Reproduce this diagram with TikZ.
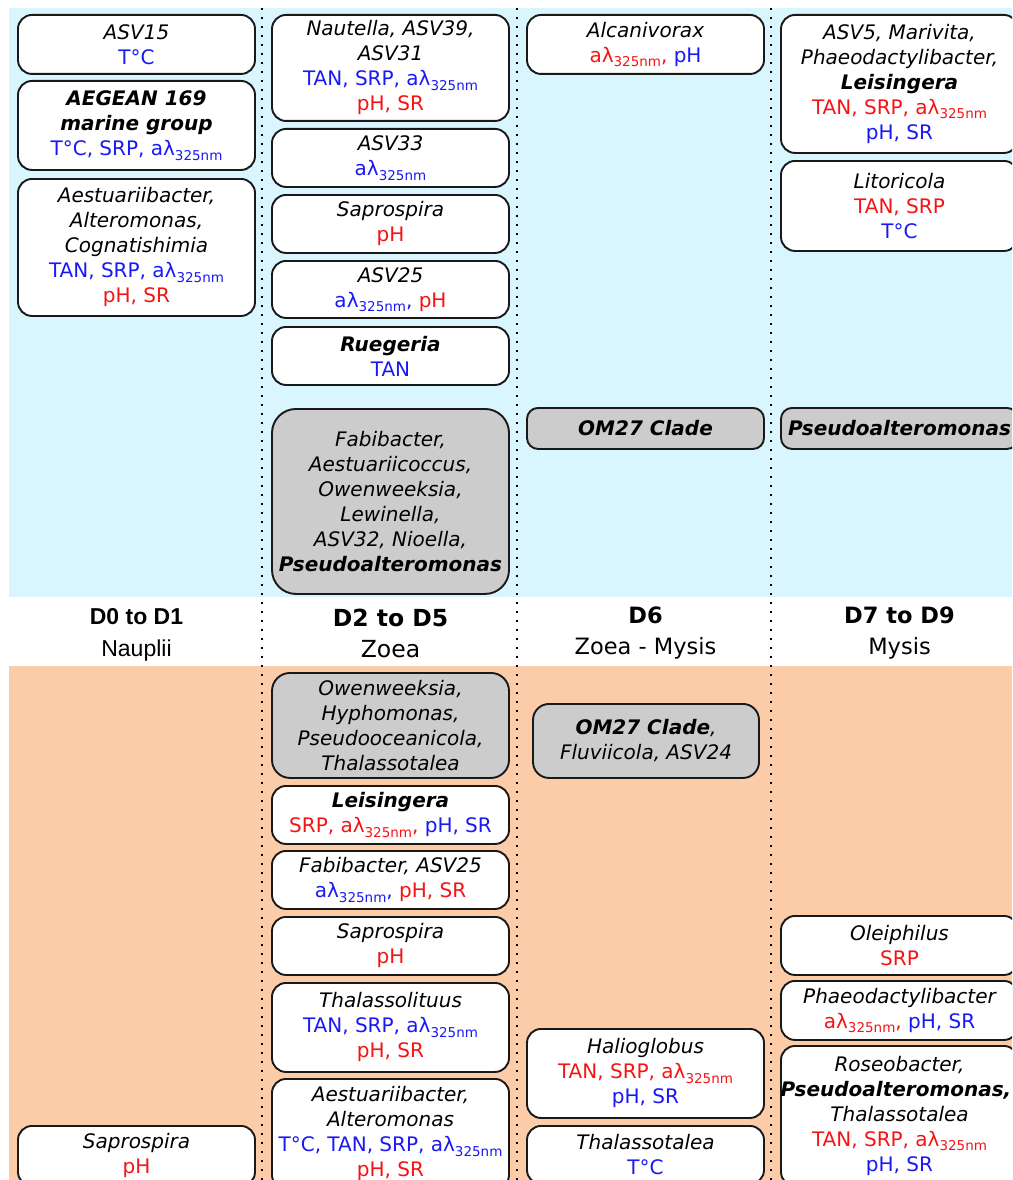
\documentclass[tikz,border=0pt]{standalone}
\usepackage{fontspec}
\setmainfont{DejaVu Sans}
\newfontfamily\arialfont{Liberation Sans}
\usetikzlibrary{positioning}
\definecolor{topblue}{RGB}{217,245,253}
\definecolor{botpeach}{RGB}{252,204,168}
\definecolor{sharedgray}{RGB}{204,204,204}
\definecolor{posblue}{RGB}{25,25,245}
\definecolor{negred}{RGB}{245,20,20}
\definecolor{boxline}{RGB}{25,25,25}
\newcommand{\posc}[1]{\textcolor{posblue}{\upshape #1}}
\newcommand{\negc}[1]{\textcolor{negred}{\upshape #1}}
\newcommand{\alam}{aλ\raisebox{-4.5pt}{\fontsize{13.5}{13.5}\selectfont 325nm}}

\begin{document}
\begin{tikzpicture}[
    x=1pt, y=-1pt,
    taxon/.style={draw=boxline, line width=1.9pt, fill=white, rounded corners=14pt, minimum width=237pt, inner sep=2pt, align=center, anchor=north, font=\fontsize{20}{25}\selectfont\itshape},
    shared/.style={taxon, fill=sharedgray},
    stage/.style={anchor=north, inner sep=0pt, align=center, font=\fontsize{22.5}{31}\selectfont},
    divider/.style={line width=2pt, dash pattern=on 2pt off 7pt}
]
\useasboundingbox (0,0) rectangle (1012,1180);
\clip (0,0) rectangle (1012,1180);

% Bands
\fill[topblue] (9,8) rectangle (1012,597);
\fill[botpeach] (9,666) rectangle (1012,1180);

% Column dividers
\draw[divider] (262,8) -- (262,1180);
\draw[divider] (517,8) -- (517,1180);
\draw[divider] (771,8) -- (771,1180);

% Top: D0 to D1
\node[taxon, minimum height=59pt] (asvfifteen) at (136.5,14) {ASV15\\\posc{T°C}};
\node[taxon, minimum height=89pt] (aegean) at (136.5,80) {\textbf{AEGEAN 169}\\\textbf{marine group}\\\posc{T°C, SRP, \alam}};
\node[taxon, minimum height=137pt] (aestuaA) at (136.5,178) {Aestuariibacter,\\Alteromonas,\\Cognatishimia\\\posc{TAN, SRP, \alam}\\\negc{pH, SR}};

% Top: D2 to D5
\node[taxon, minimum height=106pt] (nautella) at (390.5,14) {Nautella, ASV39,\\ASV31\\\posc{TAN, SRP, \alam}\\\negc{pH, SR}};
\node[taxon, minimum height=58pt] (asvthirtythree) at (390.5,128) {ASV33\\\posc{\alam}};
\node[taxon, minimum height=58pt] (saproA) at (390.5,194) {Saprospira\\\negc{pH}};
\node[taxon, minimum height=57pt] (asvtwentyfiveA) at (390.5,260) {ASV25\\\posc{\alam,} \negc{pH}};
\node[taxon, minimum height=58pt] (ruegeria) at (390.5,326) {\textbf{Ruegeria}\\\posc{TAN}};
\node[shared, minimum height=185pt, rounded corners=24pt] (fabiA) at (390.5,408) {Fabibacter,\\Aestuariicoccus,\\Owenweeksia,\\Lewinella,\\ASV32, Nioella,\\\textbf{Pseudoalteromonas}};

% Top: D6
\node[taxon, minimum height=59pt] (alcani) at (645.5,14) {Alcanivorax\\\negc{\alam,} \posc{pH}};
\node[shared, minimum height=41pt, rounded corners=11pt] (omA) at (645.5,407) {\textbf{OM27 Clade}};

% Top: D7 to D9
\node[taxon, minimum height=138pt] (asvfive) at (899.5,14) {ASV5, Marivita,\\Phaeodactylibacter,\\\textbf{Leisingera}\\\negc{TAN, SRP, \alam}\\\posc{pH, SR}};
\node[taxon, minimum height=90pt] (litori) at (899.5,160) {Litoricola\\\negc{TAN, SRP}\\\posc{T°C}};
\node[shared, minimum height=41pt, rounded corners=11pt] (pseudoA) at (899.5,407) {\textbf{Pseudoalteromonas}};

% Stages
\node[stage, font=\arialfont\fontsize{23}{32}\selectfont] (dzero) at (136.5,608) {\textbf{D0 to D1}\\Nauplii};
\node[stage, font=\fontsize{23.5}{31}\selectfont] (dtwo) at (390.5,609) {\textbf{D2 to D5}\\Zoea};
\node[stage] (dsix) at (645.5,607) {\textbf{D6}\\Zoea - Mysis};
\node[stage] (dseven) at (899.5,607) {\textbf{D7 to D9}\\Mysis};

% Bottom: D0 to D1
\node[taxon, minimum height=60pt] (saproB) at (136.5,1125) {Saprospira\\\negc{pH}};

% Bottom: D2 to D5
\node[shared, minimum height=105pt, rounded corners=18pt] (oweng) at (390.5,672) {Owenweeksia,\\Hyphomonas,\\Pseudooceanicola,\\Thalassotalea};
\node[taxon, minimum height=58pt] (leisB) at (390.5,785) {\textbf{Leisingera}\\\negc{SRP, \alam,} \posc{pH, SR}};
\node[taxon, minimum height=58pt] (fabiB) at (390.5,850) {Fabibacter, ASV25\\\posc{\alam,} \negc{pH, SR}};
\node[taxon, minimum height=58pt] (saproC) at (390.5,916) {Saprospira\\\negc{pH}};
\node[taxon, minimum height=89pt] (thalassol) at (390.5,982) {Thalassolituus\\\posc{TAN, SRP, \alam}\\\negc{pH, SR}};
\node[taxon, minimum height=110pt] (aestuaB) at (390.5,1078) {Aestuariibacter,\\Alteromonas\\\posc{T°C, TAN, SRP, \alam}\\\negc{pH, SR}};

% Bottom: D6
\node[shared, minimum width=226pt, minimum height=74pt, rounded corners=16pt] (omB) at (646,703) {\textbf{OM27 Clade}, \\Fluviicola, ASV24};
\node[taxon, minimum height=89pt] (halio) at (645.5,1028) {Halioglobus\\\negc{TAN, SRP, \alam}\\\posc{pH, SR}};
\node[taxon, minimum height=58pt] (thalassot) at (645.5,1125) {Thalassotalea\\\posc{T°C}};

% Bottom: D7 to D9
\node[taxon, minimum height=59pt] (oleiph) at (899.5,915) {Oleiphilus\\\negc{SRP}};
\node[taxon, minimum height=59pt] (phaeo) at (899.5,980) {Phaeodactylibacter\\\negc{\alam,} \posc{pH, SR}};
\node[taxon, minimum height=140pt] (roseo) at (899.5,1045) {Roseobacter,\\\hspace*{-7pt}\textbf{Pseudoalteromonas,}\\Thalassotalea\\\negc{TAN, SRP, \alam}\\\posc{pH, SR}};

\end{tikzpicture}
\end{document}
